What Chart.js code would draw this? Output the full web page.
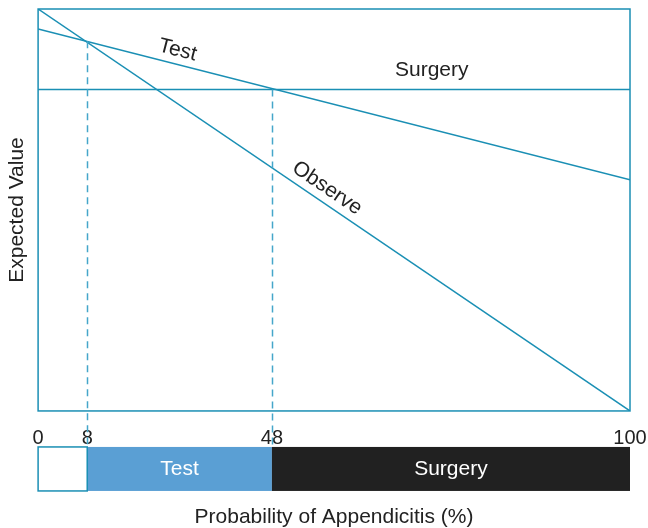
<!DOCTYPE html>
<html>
<head>
<meta charset="utf-8">
<script src="https://cdn.jsdelivr.net/npm/chart.js@4"></script>
<style>
  html, body { margin: 0; padding: 0; background: #fff; }
</style>
</head>
<body>
<canvas id="chart" width="648" height="528"></canvas>
<script>
// ---------- data ----------
const xEnds = [0, 100];
const observeValues = [100, 0];
const testValues = [95, 57.5];
const surgeryValues = [80, 80];

// thresholds are drawn where the lines cross, labelled with their %
const tickPositions = [0, 8.3, 39.5, 100];
const tickLabels = ["0", "8", "48", "100"];

const thresholdPositions = [8.3, 39.5];
const thresholdTops = [92, 80];

const bandStarts = [0, 8.3, 39.5];
const bandEnds = [8.3, 39.5, 100];
const bandLabels = ["", "Test", "Surgery"];

// ---------- styles ----------
const TEAL = "#1a8fb4";
const DASH = "#45a6ca";
const TEXT = "#222222";
const FONT = "'Liberation Sans', Arial, sans-serif";
const bandFills = ["#ffffff", "#5a9fd4", "#212121"];

const pts = ys => xEnds.map((x, i) => ({ x: x, y: ys[i] }));

const decor = {
  id: "decor",
  afterDatasetsDraw(chart) {
    const { ctx, chartArea: a, scales: { x, y } } = chart;
    const bandTop = a.bottom + 36;

    // dashed threshold lines
    ctx.save();
    ctx.strokeStyle = DASH;
    ctx.lineWidth = 1.5;
    ctx.setLineDash([7, 5]);
    thresholdPositions.forEach((t, i) => {
      const px = Math.round(x.getPixelForValue(t)) + 0.5;
      ctx.beginPath();
      ctx.moveTo(px, y.getPixelForValue(thresholdTops[i]));
      ctx.lineTo(px, bandTop);
      ctx.stroke();
    });
    ctx.restore();

    // plot border
    ctx.save();
    ctx.strokeStyle = TEAL;
    ctx.lineWidth = 1.5;
    ctx.strokeRect(a.left, a.top, a.right - a.left, a.bottom - a.top);
    ctx.restore();

    // line labels
    ctx.save();
    ctx.fillStyle = TEXT;
    ctx.font = "21px " + FONT;
    ctx.textAlign = "center";
    ctx.textBaseline = "middle";
    const onLine = (ys, at, off, text) => {
      const x0 = x.getPixelForValue(xEnds[0]), y0 = y.getPixelForValue(ys[0]);
      const x1 = x.getPixelForValue(xEnds[1]), y1 = y.getPixelForValue(ys[1]);
      const ang = Math.atan2(y1 - y0, x1 - x0);
      const px = x.getPixelForValue(at);
      const py = y0 + (px - x0) * (y1 - y0) / (x1 - x0);
      ctx.save();
      ctx.translate(px, py);
      ctx.rotate(ang);
      ctx.fillText(text, 0, -off);
      ctx.restore();
    };
    onLine(testValues, 23, 14, "Test");
    onLine(observeValues, 47.5, 14, "Observe");
    onLine(surgeryValues, 66.5, 19, "Surgery");
    ctx.restore();

    // strategy band
    const bandH = 44;
    ctx.save();
    bandStarts.forEach((s, i) => {
      const l = x.getPixelForValue(s), r = x.getPixelForValue(bandEnds[i]);
      ctx.fillStyle = bandFills[i];
      ctx.fillRect(l, bandTop, r - l, bandH);
      if (bandLabels[i]) {
        ctx.fillStyle = "#ffffff";
        ctx.font = "21px " + FONT;
        ctx.textAlign = "center";
        ctx.textBaseline = "middle";
        ctx.fillText(bandLabels[i], (l + r) / 2, bandTop + bandH / 2);
      }
    });
    const l0 = x.getPixelForValue(bandStarts[0]), r0 = x.getPixelForValue(bandEnds[0]);
    ctx.strokeStyle = TEAL;
    ctx.lineWidth = 1.5;
    ctx.strokeRect(l0, bandTop, r0 - l0, bandH);
    ctx.restore();
  }
};

new Chart(document.getElementById("chart"), {
  type: "line",
  data: {
    datasets: [
      { label: "Observe", data: pts(observeValues) },
      { label: "Test", data: pts(testValues) },
      { label: "Surgery", data: pts(surgeryValues) }
    ].map(d => Object.assign(d, {
      borderColor: TEAL, borderWidth: 1.5, pointRadius: 0, fill: false, tension: 0
    }))
  },
  options: {
    responsive: false,
    animation: false,
    layout: { padding: { top: 9, right: 0, left: 0, bottom: 0 } },
    plugins: { legend: { display: false }, tooltip: { enabled: false } },
    scales: {
      x: {
        type: "linear", min: 0, max: 100,
        grid: { display: false }, border: { display: false },
        afterBuildTicks: axis => { axis.ticks = tickPositions.map(v => ({ value: v })); },
        afterFit: axis => { axis.paddingRight = 18; axis.paddingLeft = 0; },
        ticks: {
          autoSkip: false, maxRotation: 0, padding: 8, color: TEXT,
          font: { size: 20, family: FONT },
          callback: (v, i) => tickLabels[i]
        },
        title: {
          display: true, text: "Probability of Appendicitis (%)", color: TEXT,
          font: { size: 21, family: FONT, lineHeight: 1.05 }, padding: { top: 47, bottom: 0 }
        }
      },
      y: {
        min: 0, max: 100,
        grid: { display: false }, border: { display: false },
        ticks: { display: false },
        title: {
          display: true, text: "Expected Value", color: TEXT,
          font: { size: 21, family: FONT, lineHeight: 1.1 }, padding: { top: 6, bottom: 1 }
        }
      }
    }
  },
  plugins: [decor]
});
</script>
</body>
</html>
